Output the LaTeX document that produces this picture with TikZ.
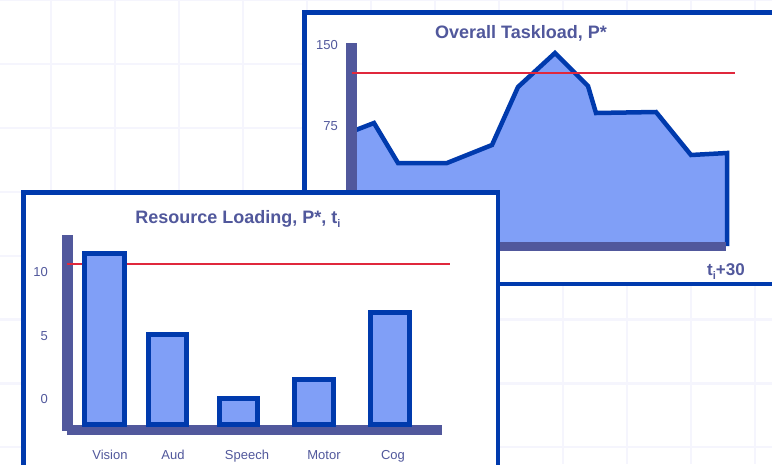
\documentclass[tikz,border=0pt]{standalone}
\usepackage{fontspec}
\setmainfont{Liberation Sans}
\definecolor{lineblue}{HTML}{003AAD}
\definecolor{fillblue}{HTML}{809FF7}
\definecolor{axisc}{HTML}{51589C}
\definecolor{redc}{HTML}{E0283C}
\definecolor{gridc}{HTML}{F5F5FD}
\newcommand{\lowi}{\raisebox{-4.5pt}{\fontsize{11}{11}\selectfont i}}
\begin{document}
\begin{tikzpicture}[x=1pt,y=-1pt,
  frame/.style={draw=lineblue, line width=4.5pt, fill=white},
  limit/.style={draw=redc, line width=2pt},
  curve/.style={draw=lineblue, line width=4.5pt, line join=miter},
  loadbar/.style={draw=lineblue, line width=5pt, fill=fillblue},
  title/.style={text=axisc, font=\fontsize{18}{20}\selectfont\bfseries, anchor=base, inner sep=0pt},
  tick/.style={text=axisc, font=\fontsize{13}{15}\selectfont, anchor=east, inner sep=0pt},
  cat/.style={text=axisc, font=\fontsize{13}{15}\selectfont, anchor=base, inner sep=0pt}]
\useasboundingbox (0,0) rectangle (772,464);
\clip (0,0) rectangle (772,464);
\fill[white] (0,0) rectangle (772,464);
% background grid
\foreach \gx in {51,115,...,755} \draw[gridc, line width=2.2pt] (\gx,0) -- (\gx,464);
\foreach \k in {0,...,7} \draw[gridc, line width=2.2pt] (0,\k*63.9) -- (772,\k*63.9);

% ---------- top panel ----------
\draw[frame] (304.5,12.5) rectangle (800,284);
\fill[fillblue] (357,130) -- (374,123) -- (398,163) -- (447,163) -- (492,145) -- (518,87) -- (555,53) -- (588,86) -- (596,113) -- (656,112) -- (691,155) -- (727,153) -- (727,245) -- (357,245) -- cycle;
\draw[curve] (352,131.5) -- (374,123) -- (398,163) -- (447,163) -- (492,145) -- (518,87) -- (555,53) -- (588,86) -- (596,113) -- (656,112) -- (691,155) -- (727,153) -- (727,246);
\fill[axisc] (346,43) rectangle (357,300);
\fill[axisc] (300,242) rectangle (726,251);
\draw[limit] (352,73) -- (735,73);
\node[title] (ttop) at (521,38) {Overall Taskload, P*};
\node[tick] (t150) at (338,45) {150};
\node[tick] (t75) at (338,126) {75};
\node[text=axisc, font=\fontsize{17}{19}\selectfont\bfseries, anchor=base, inner sep=0pt] (tend) at (726,275) {t\lowi+30};

% ---------- bottom panel ----------
\draw[frame] (23.5,192.5) rectangle (498,520);
\fill[axisc] (62,235) rectangle (73,431);
\fill[axisc] (67,425) rectangle (442,435);
\draw[limit] (67,264) -- (450,264);
\draw[loadbar] (84.5,253.5) rectangle (124.5,424.5);
\draw[loadbar] (148.5,334.5) rectangle (186.5,424.5);
\draw[loadbar] (219.5,398.5) rectangle (257.5,424.5);
\draw[loadbar] (294.5,379.5) rectangle (333.5,424.5);
\draw[loadbar] (370.5,312.5) rectangle (409.5,424.5);
\node[title] (tbot) at (238,223) {Resource Loading, P*, t\lowi};
\node[tick] (t10) at (48,272) {10};
\node[tick] (t5) at (48,336) {5};
\node[tick] (t0) at (48,399) {0};
\node[cat] (cvis) at (110,459) {Vision};
\node[cat] (caud) at (173,459) {Aud};
\node[cat] (cspe) at (247,459) {Speech};
\node[cat] (cmot) at (324,459) {Motor};
\node[cat] (ccog) at (393,459) {Cog};
\end{tikzpicture}
\end{document}
